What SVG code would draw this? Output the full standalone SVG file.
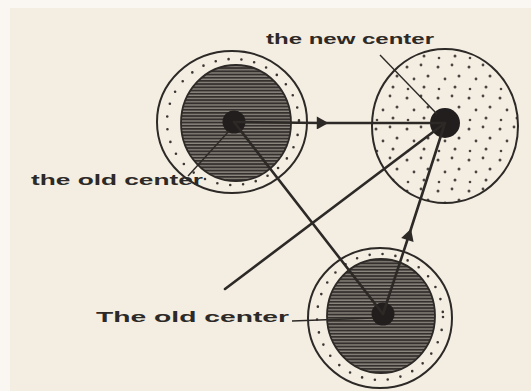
<svg xmlns="http://www.w3.org/2000/svg" width="531" height="391" viewBox="0 0 531 391">
<style>
.paper{fill:#f3ede2}
.outline{fill:none;stroke:#2d2926;stroke-width:2}
.ring{fill:none;stroke:#3b3633;stroke-width:2.6;stroke-linecap:round;stroke-dasharray:0 13}
.hatched{fill:url(#hatch);stroke:#2d2926;stroke-width:1.8}
.stippled{fill:url(#stipple);stroke:#2d2926;stroke-width:2}
.center{fill:#221e1d}
.conn{fill:none;stroke:#2d2926;stroke-width:2.6;stroke-linecap:round}
.leader{fill:none;stroke:#2d2926;stroke-width:1.4}
.lbl{font-family:"Liberation Sans",Arial,sans-serif;font-size:15px;font-weight:bold;fill:#2d2926}
</style>
<defs>
<pattern id="hatch" width="8" height="3.2" patternUnits="userSpaceOnUse">
<rect width="8" height="3.2" fill="#8e8981"/>
<rect width="8" height="1.9" fill="#35302d"/>
</pattern>
<pattern id="stipple" width="31" height="31" patternUnits="userSpaceOnUse">
<circle cx="4" cy="5" r="1.5" fill="#4a4541"/>
<circle cx="18" cy="3" r="1.4" fill="#4a4541"/>
<circle cx="25" cy="14" r="1.5" fill="#4a4541"/>
<circle cx="11" cy="17" r="1.4" fill="#4a4541"/>
<circle cx="21" cy="25" r="1.5" fill="#4a4541"/>
<circle cx="5" cy="27" r="1.3" fill="#4a4541"/>
</pattern>
<marker id="arr" viewBox="0 0 10 10" refX="5" refY="5" markerWidth="5" markerHeight="5" orient="auto" markerUnits="strokeWidth">
<path d="M1,0 L10,5 L1,10 z" fill="#2d2926"/>
</marker>
</defs>
<rect width="531" height="391" fill="#faf7f2"/>
<rect class="paper" x="10" y="8" width="521" height="383"/>

<g id="old-center-top">
<ellipse class="outline" cx="232" cy="122" rx="75" ry="71"/>
<ellipse class="ring" cx="233" cy="122" rx="66" ry="63"/>
<ellipse class="hatched" cx="236" cy="123" rx="55" ry="58"/>
<circle class="center" cx="234" cy="122" r="11.5"/>
</g>

<g id="new-center">
<ellipse class="stippled" cx="445" cy="126" rx="73" ry="77"/>
<circle class="center" cx="445" cy="123" r="15"/>
</g>

<g id="old-center-bottom">
<ellipse class="outline" cx="380" cy="318" rx="72" ry="70"/>
<ellipse class="ring" cx="380" cy="317" rx="63" ry="63"/>
<ellipse class="hatched" cx="381" cy="316" rx="54" ry="57"/>
<circle class="center" cx="383" cy="314" r="11.5"/>
</g>

<g id="connectors">
<path class="conn" d="M234,122 L322,123 L445,123" marker-mid="url(#arr)"/>
<path class="conn" d="M234,122 L383,314"/>
<path class="conn" d="M383,314 L409,235 L445,123" marker-mid="url(#arr)"/>
<path class="conn" d="M225,289 L445,123"/>
<path class="leader" d="M380,55 L437,114"/>
<path class="leader" d="M188,176 L229,131"/>
<path class="leader" d="M292,321 L373,318"/>
</g>

<g id="labels">
<text class="lbl" x="266" y="44" textLength="168" lengthAdjust="spacingAndGlyphs">the new center</text>
<text class="lbl" x="31" y="185" textLength="172" lengthAdjust="spacingAndGlyphs">the old center</text>
<text class="lbl" x="96" y="322" textLength="193" lengthAdjust="spacingAndGlyphs">The old center</text>
</g>
</svg>
